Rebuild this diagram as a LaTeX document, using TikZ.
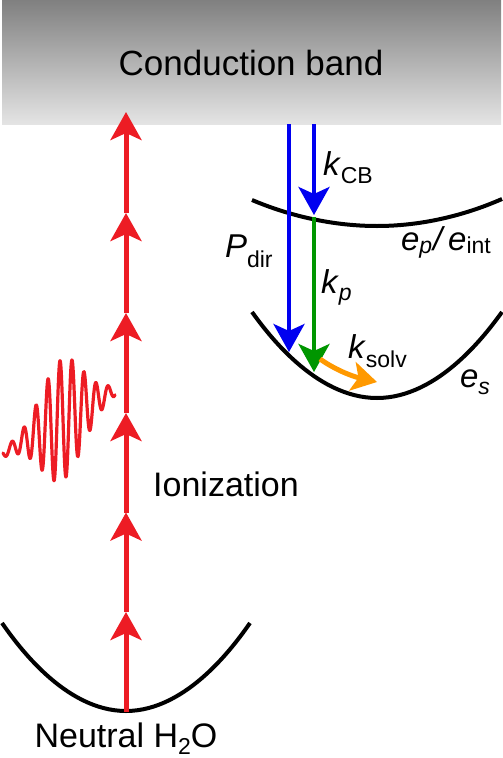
\documentclass[tikz,border=0pt]{standalone}
\usepackage{fontspec}
\setmainfont{Liberation Sans}
\usetikzlibrary{arrows.meta}
\definecolor{myred}{RGB}{237,28,36}
\definecolor{myblue}{RGB}{0,0,240}
\definecolor{mygreen}{RGB}{0,150,0}
\definecolor{myorange}{RGB}{255,153,0}
\definecolor{bandtop}{RGB}{128,128,128}
\definecolor{bandbot}{RGB}{228,228,228}
\newcommand\labMain{\fontsize{33}{36}\selectfont}
\newcommand\labSub{\fontsize{23}{24}\selectfont}
\begin{document}
\begin{tikzpicture}[x=1pt,y=-1pt,
  head/.style={-{Stealth[length=28pt,width=31pt,inset=7pt]}},
  exc/.style={head, draw=myred, line width=5pt},
  blu/.style={head, draw=myblue, line width=4pt},
  grn/.style={head, draw=mygreen, line width=4pt},
  org/.style={-{Stealth[length=25pt,width=29pt,inset=6pt]}, draw=myorange, line width=5pt},
  pes/.style={draw=black, line width=4pt},
  lab/.style={anchor=base west, inner sep=0pt, outer sep=0pt},
  big/.style={anchor=base, inner sep=0pt, font=\fontsize{35}{40}\selectfont}
]
\useasboundingbox (0,0) rectangle (503,758);
% conduction band
\shade[top color=bandtop, bottom color=bandbot] (2,0) rectangle (501,124);
\node[big] (cbtext) at (251,75) {Conduction band};

% potential curves
\draw[pes] (2,623) parabola bend (126,711) (250,623);
\draw[pes] (252,200) parabola bend (377,226) (502,199);
\draw[pes] (252,312) parabola bend (377,398) (502,312);

% multiphoton excitation
\coordinate (r0) at (126,712);
\coordinate (r1) at (126,612);
\coordinate (r2) at (126,512.5);
\coordinate (r3) at (126,413);
\coordinate (r4) at (126,313);
\coordinate (r5) at (126,213);
\coordinate (r6) at (126,112);
\draw[exc] (r0) -- (r1);
\draw[exc] (r1) -- (r2);
\draw[exc] (r2) -- (r3);
\draw[exc] (r3) -- (r4);
\draw[exc] (r4) -- (r5);
\draw[exc] (r5) -- (r6);

% laser pulse
\draw[myred, line width=3.2pt, line join=round, line cap=round]
  plot[domain=3:115, samples=500, smooth]
  (\x, {453-0.5625*(\x-3) - (3.5+57*exp(-((\x-62)^2)/850))*cos(30*(\x-60))});

% relaxation arrows
\coordinate (b1s) at (289,124);
\coordinate (b1e) at (289,352);
\coordinate (b2s) at (314,124);
\coordinate (b2e) at (314,215);
\coordinate (gs) at (314,217);
\coordinate (ge) at (314,372);
\coordinate (os) at (320,359);
\coordinate (oe) at (377,382);
\draw[blu] (b1s) -- (b1e);
\draw[blu] (b2s) -- (b2e);
\draw[grn] (gs) -- (ge);
\draw[org] (os) .. controls (334,369) and (351,376) .. (oe);

% labels
\node[lab] (kcb) at (323,175) {\labMain\textit{k}\raisebox{-8pt}{\labSub CB}};
\node[lab] (pdir) at (225,257) {\labMain\textit{P}\raisebox{-10pt}{\labSub dir}};
\node[lab] (kp) at (321,293) {\labMain\textit{k}\raisebox{-7pt}{\labSub\textit{p}}};
\node[lab] (ksolv) at (348,358) {\labMain\textit{k}\raisebox{-9pt}{\labSub solv}};
\node[lab] (es) at (460,387) {\labMain\textit{e}\raisebox{-7pt}{\labSub\textit{s}}};
\node[lab] (epint) at (401,250) {\labMain\textit{e}\raisebox{-3pt}{\labSub\textit{p}}\kern1pt\textit{/}\kern3pt\textit{e}\raisebox{-3pt}{\labSub int}};
\node[big, font=\fontsize{34}{40}\selectfont] (ion) at (226,496) {Ionization};
\node[big, font=\fontsize{34}{40}\selectfont] (neutral) at (126,747) {Neutral H\raisebox{-7pt}{\fontsize{23}{24}\selectfont 2}O};
\end{tikzpicture}
\end{document}
